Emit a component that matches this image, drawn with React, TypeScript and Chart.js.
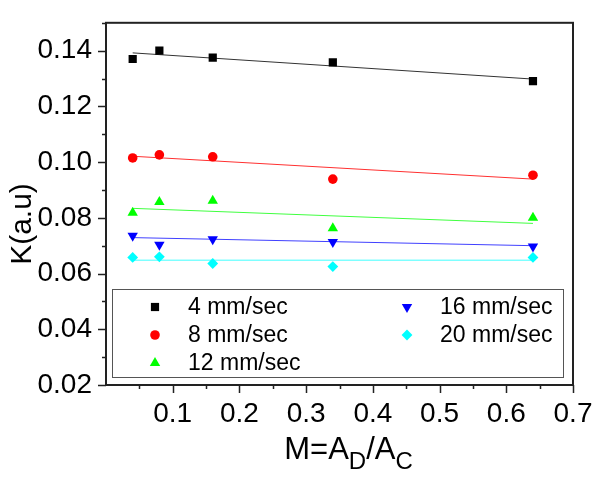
import React, { useEffect, useRef } from "react";
import { Chart, registerables } from "chart.js";

Chart.register(...registerables);

const xValues = [0.04, 0.08, 0.16, 0.34, 0.64];
const k4 = [0.137, 0.14, 0.1375, 0.1358, 0.1291];
const k8 = [0.1015, 0.1026, 0.1019, 0.0939, 0.0953];
const k12 = [0.0818, 0.0857, 0.0861, 0.0763, 0.08];
const k16 = [0.0736, 0.0703, 0.0723, 0.0713, 0.0697];
const k20 = [0.0658, 0.066, 0.0636, 0.0625, 0.0658];

const fitX = [0.04, 0.64];
const fit4 = [0.1392, 0.1298];
const fit8 = [0.1021, 0.0939];
const fit12 = [0.0834, 0.078];
const fit16 = [0.0729, 0.07];
const fit20 = [0.0648, 0.0648];

const seriesLabels = ["4 mm/sec", "8 mm/sec", "12 mm/sec", "16 mm/sec", "20 mm/sec"];
const seriesColors = ["#000000", "#ff0000", "#00ff00", "#0000ff", "#00ffff"];
const seriesStyles = ["rect", "circle", "triangle", "triangle", "rectRot"];
const seriesRotation = [0, 0, 0, 180, 0];
const seriesRadius = [5.8, 4.8, 6.0, 6.0, 5.4];
const fitLineColors = ["#333333", "#ff3030", "#40ff40", "#4040ff", "#40ffff"];

const FONT = "'Liberation Sans', Arial, Helvetica, sans-serif";

const pts = (xs: number[], ys: number[]) => xs.map((x, i) => ({ x, y: ys[i] }));

function drawMarker(ctx: CanvasRenderingContext2D, style: string, rotationDeg: number, r: number, x: number, y: number) {
  let rad = (rotationDeg * Math.PI) / 180;
  ctx.beginPath();
  if (style === "circle") {
    ctx.arc(x, y, r, 0, Math.PI * 2);
  } else if (style === "rect") {
    const s = Math.SQRT1_2 * r;
    ctx.rect(x - s, y - s, 2 * s, 2 * s);
  } else if (style === "triangle") {
    for (let k = 0; k < 3; k++) {
      const px = x + Math.sin(rad) * r;
      const py = y - Math.cos(rad) * r;
      if (k === 0) ctx.moveTo(px, py);
      else ctx.lineTo(px, py);
      rad += (2 * Math.PI) / 3;
    }
    ctx.closePath();
  } else if (style === "rectRot") {
    ctx.moveTo(x, y - r);
    ctx.lineTo(x + r, y);
    ctx.lineTo(x, y + r);
    ctx.lineTo(x - r, y);
    ctx.closePath();
  }
  ctx.fill();
}

const decorPlugin = {
  id: "decor",
  afterDraw(chart: any) {
    const { ctx, chartArea } = chart;
    const xs = chart.scales.x;
    const ys = chart.scales.y;
    ctx.save();
    // frame
    ctx.strokeStyle = "#222222";
    ctx.lineWidth = 2;
    ctx.strokeRect(chartArea.left, chartArea.top, chartArea.right - chartArea.left, chartArea.bottom - chartArea.top);
    // ticks
    ctx.lineWidth = 1.5;
    ctx.beginPath();
    xs.ticks.forEach((t: any) => {
      const v = t.value;
      if (v <= 0.0001) return;
      const major = Math.round(v * 20) % 2 === 0;
      const px = Math.round(xs.getPixelForValue(v)) + 0.5;
      ctx.moveTo(px, chartArea.bottom);
      ctx.lineTo(px, chartArea.bottom + (major ? 8 : 4));
    });
    ys.ticks.forEach((t: any) => {
      const v = t.value;
      const major = Math.round(v * 100) % 2 === 0;
      const py = Math.round(ys.getPixelForValue(v)) + 0.5;
      ctx.moveTo(chartArea.left, py);
      ctx.lineTo(chartArea.left - (major ? 8 : 4), py);
    });
    ctx.stroke();

    // y title
    ctx.fillStyle = "#000";
    ctx.save();
    ctx.translate(31, 224);
    ctx.rotate(-Math.PI / 2);
    ctx.font = `30px ${FONT}`;
    ctx.textAlign = "center";
    ctx.textBaseline = "alphabetic";
    ctx.fillText("K(a.u)", 0, 0);
    ctx.restore();

    // x title with subscripts
    const big = `31px ${FONT}`;
    const small = `24px ${FONT}`;
    const parts: [string, string, number][] = [
      ["M=A", big, 0],
      ["D", small, 10],
      ["/A", big, 0],
      ["C", small, 10],
    ];
    let total = 0;
    parts.forEach(([s, f]) => {
      ctx.font = f;
      total += ctx.measureText(s).width;
    });
    let cx = (chartArea.left + chartArea.right) / 2 - total / 2 + 9;
    ctx.textAlign = "left";
    ctx.textBaseline = "alphabetic";
    parts.forEach(([s, f, dy]) => {
      ctx.font = f;
      ctx.fillText(s, cx, 459 + dy);
      cx += ctx.measureText(s).width;
    });

    // legend
    const lx = 112, ly = 289, lw = 451, lh = 88;
    ctx.fillStyle = "#fff";
    ctx.fillRect(lx, ly, lw, lh);
    ctx.strokeStyle = "#555";
    ctx.lineWidth = 1;
    ctx.strokeRect(lx + 0.5, ly + 0.5, lw, lh);
    const pos = [
      [155, 307, 188],
      [155, 335, 188],
      [155, 363, 188],
      [407, 307, 440],
      [407, 335, 440],
    ];
    ctx.font = `23px ${FONT}`;
    ctx.textBaseline = "middle";
    ctx.textAlign = "left";
    seriesLabels.forEach((label, i) => {
      const [mx, my, tx] = pos[i];
      ctx.fillStyle = seriesColors[i];
      drawMarker(ctx, seriesStyles[i], seriesRotation[i], seriesRadius[i], mx, my);
      ctx.fillStyle = "#000";
      ctx.fillText(label, tx, my + 1);
    });
    ctx.restore();
  },
};

export default function App() {
  const ref = useRef<HTMLCanvasElement | null>(null);
  useEffect(() => {
    if (!ref.current) return;
    const scatterVals = [k4, k8, k12, k16, k20];
    const fitVals = [fit4, fit8, fit12, fit16, fit20];
    const datasets: any[] = [];
    fitVals.forEach((f, i) => {
      datasets.push({
        type: "line",
        label: "fit " + seriesLabels[i],
        data: pts(fitX, f),
        borderColor: fitLineColors[i],
        borderWidth: 1,
        pointRadius: 0,
        fill: false,
        order: 2,
      });
    });
    scatterVals.forEach((v, i) => {
      datasets.push({
        type: "scatter",
        label: seriesLabels[i],
        data: pts(xValues, v),
        backgroundColor: seriesColors[i],
        borderColor: seriesColors[i],
        borderWidth: 0,
        pointStyle: seriesStyles[i],
        rotation: seriesRotation[i],
        pointRadius: seriesRadius[i],
        order: 1,
      });
    });
    const chart = new Chart(ref.current, {
      type: "scatter",
      data: { datasets },
      options: {
        animation: false,
        responsive: false,
        maintainAspectRatio: false,
        layout: { padding: { top: 8, right: 27, left: 0, bottom: 0 } },
        plugins: { legend: { display: false }, tooltip: { enabled: false } },
        scales: {
          x: {
            type: "linear",
            min: 0,
            max: 0.7,
            border: { display: false },
            grid: { drawOnChartArea: false, drawTicks: true, tickLength: 8, tickColor: "transparent" },
            ticks: {
              stepSize: 0.05,
              autoSkip: false,
              maxRotation: 0,
              padding: 4,
              color: "#000",
              font: { family: FONT, size: 28 },
              callback: (v: any) => {
                const n = Math.round(Number(v) * 20);
                if (n === 0 || n % 2 !== 0) return "";
                return (n / 20).toFixed(1);
              },
            },
            afterFit: (s: any) => { s.height = 92; },
          },
          y: {
            type: "linear",
            min: 0.02,
            max: 0.15,
            border: { display: false },
            grid: { drawOnChartArea: false, drawTicks: true, tickLength: 8, tickColor: "transparent" },
            ticks: {
              stepSize: 0.01,
              autoSkip: false,
              padding: 6,
              color: "#000",
              font: { family: FONT, size: 28 },
              callback: (v: any) => {
                const n = Math.round(Number(v) * 100);
                if (n % 2 !== 0) return "";
                return (n / 100).toFixed(2);
              },
            },
            afterFit: (s: any) => { s.width = 106; },
          },
        },
      },
      plugins: [decorPlugin],
    });
    return () => chart.destroy();
  }, []);
  return (
    <div style={{ position: "absolute", left: 0, top: 0, width: 600, height: 477, background: "#fff" }}>
      <canvas ref={ref} width={600} height={477} style={{ width: 600, height: 477, display: "block" }} />
    </div>
  );
}
